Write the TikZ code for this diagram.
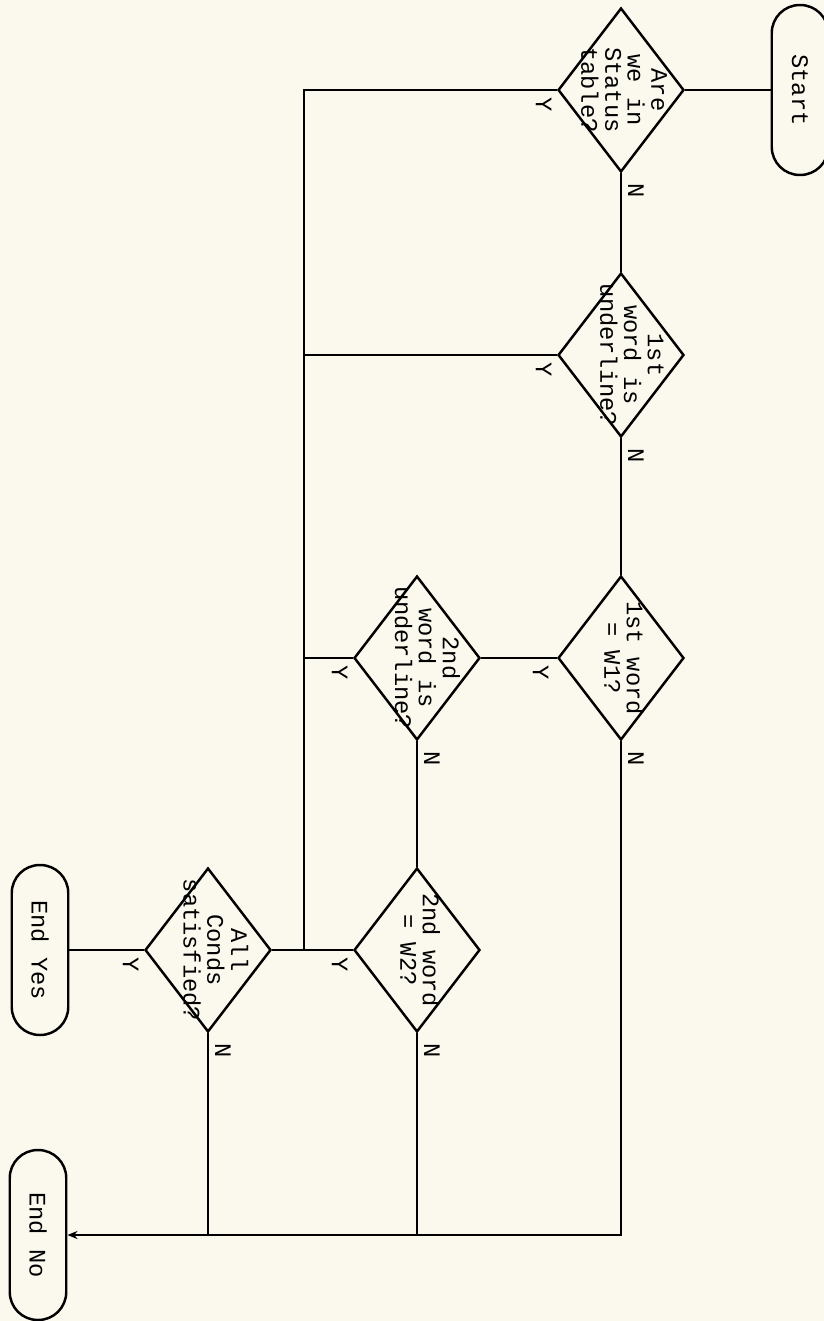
\documentclass[tikz,border=0pt]{standalone}
\usepackage{fontspec}
\setmonofont{Liberation Mono}
\usepackage{tikz}
\usetikzlibrary{arrows.meta, shapes.geometric}
\definecolor{paper}{RGB}{251, 249, 238}
\newcommand{\dlines}[2][6pt]{\raisebox{#1}{\begin{tabular}{@{}c@{}}#2\end{tabular}}}

\begin{document}
\begin{tikzpicture}[
    x=0.02cm, y=-0.02cm,
    line width=1.4pt,
    txt/.style={font=\ttfamily\fontsize{13.5}{12.5}\selectfont, rotate=-90},
    term/.style={txt, draw, rectangle, rounded corners=0.56cm, align=center,
                 minimum width=3.4cm, minimum height=1.13cm},
    dec/.style={txt, draw, diamond, inner sep=-20pt,
                minimum width=3.28cm, minimum height=2.52cm},
    yn/.style={txt, inner sep=0pt},
    arr/.style={-{Stealth[length=2mm, width=1.6mm]}}
  ]
  \fill[paper, use as bounding box] (0,0) rectangle (824,1321);

  \node[term] (start) at (800,90) {Start};
  \node[dec] (status) at (621,90) {\dlines{Are\\we in\\Status\\table?}};
  \node[dec] (ul1) at (621,355) {\dlines[25pt]{1st\\word is\\underline?}};
  \node[dec] (w1) at (621,658) {\dlines{1st word\\= W1?}};
  \node[dec] (ul2) at (417,658) {\dlines[25pt]{2nd\\word is\\underline?}};
  \node[dec] (w2) at (417,950) {\dlines{2nd word\\= W2?}};
  \node[dec] (conds) at (208,950) {\dlines[22pt]{All\\Conds\\satisfied?}};
  \node[term] (yes) at (40,950) {End Yes};
  \node[term] (no) at (38,1235) {End No};
  \coordinate (bus) at (304,90);

  \draw (start.south) -- (status.north);
  \draw (status.east) -- (ul1.west);
  \draw (ul1.east) -- (w1.west);
  \draw (w1.south) -- (ul2.north);
  \draw (ul2.east) -- (w2.west);
  \draw (w2.south) -- (conds.north);
  \draw (conds.south) -- (yes.north);
  \draw (status.south) -- (bus) -- (conds.north -| bus);
  \draw (ul1.south) -- (ul1.south -| bus);
  \draw (ul2.south) -- (ul2.south -| bus);
  \draw[arr] (w1.east) |- (no.north);
  \draw (w2.east) -- (w2.east |- no.north);
  \draw (conds.east) -- (conds.east |- no.north);

  \node[yn] (y1) at ([shift={(-13,15)}]status.south) {Y};
  \node[yn] (n1) at ([shift={(15,17)}]status.east) {N};
  \node[yn] (y2) at ([shift={(-13,15)}]ul1.south) {Y};
  \node[yn] (n2) at ([shift={(15,17)}]ul1.east) {N};
  \node[yn] (y3) at ([shift={(-16,15)}]w1.south) {Y};
  \node[yn] (n3) at ([shift={(15,17)}]w1.east) {N};
  \node[yn] (y4) at ([shift={(-13,15)}]ul2.south) {Y};
  \node[yn] (n4) at ([shift={(15,17)}]ul2.east) {N};
  \node[yn] (y5) at ([shift={(-13,15)}]w2.south) {Y};
  \node[yn] (n5) at ([shift={(15,17)}]w2.east) {N};
  \node[yn] (y6) at ([shift={(-13,15)}]conds.south) {Y};
  \node[yn] (n6) at ([shift={(15,17)}]conds.east) {N};
\end{tikzpicture}
\end{document}
